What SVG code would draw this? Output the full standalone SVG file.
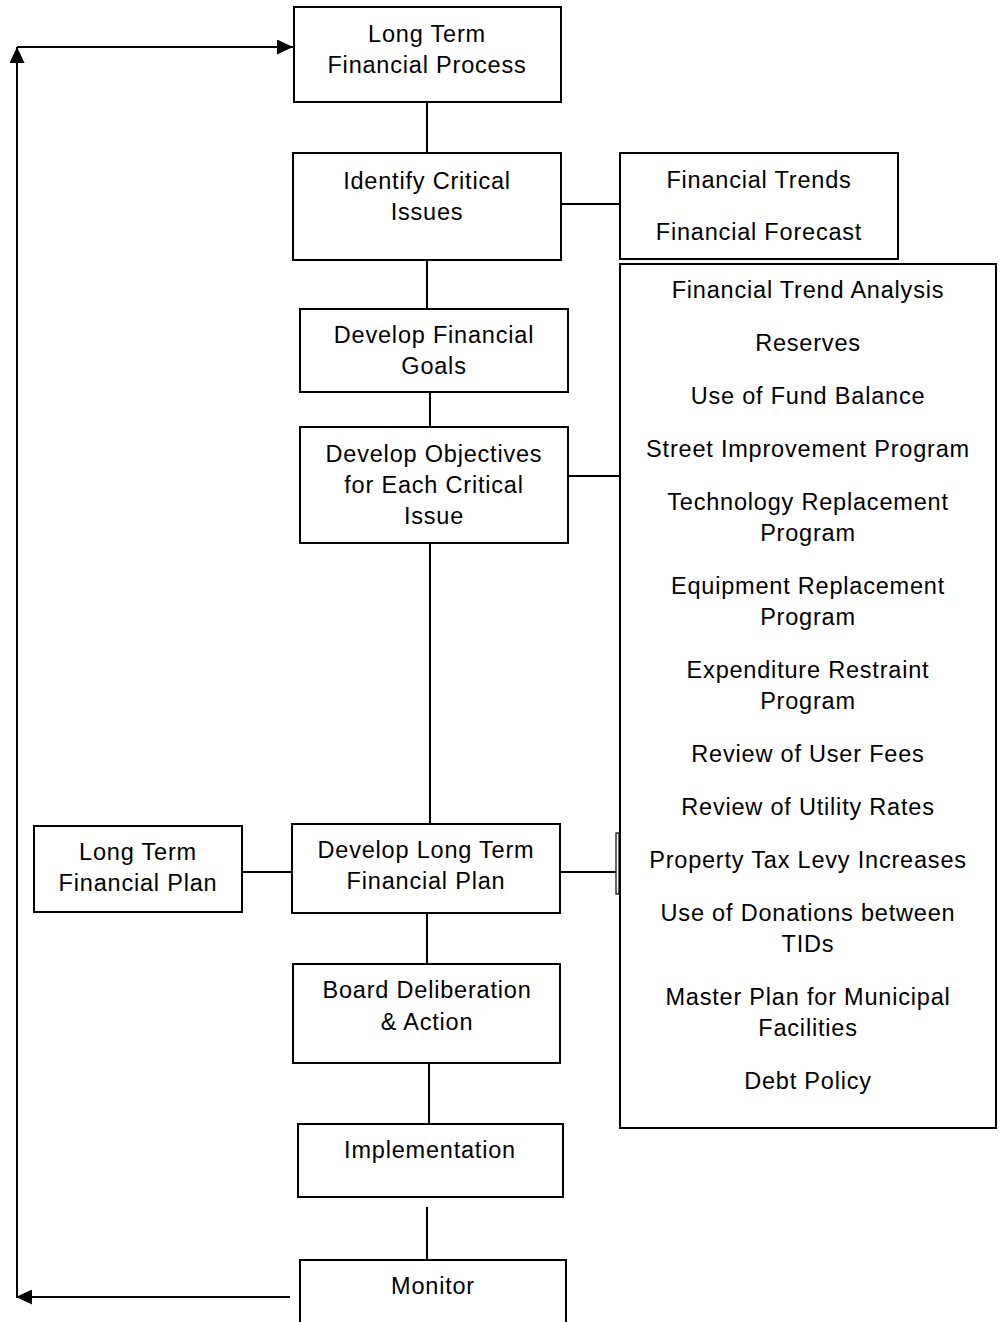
<svg xmlns="http://www.w3.org/2000/svg" width="1003" height="1322" viewBox="0 0 1003 1322">
<style>
.box{fill:#fff;stroke:#000;stroke-width:2}
.ln{stroke:#000;stroke-width:2;fill:none}
text{font-family:"Liberation Sans",Arial,sans-serif;font-size:23.5px;letter-spacing:0.8px;fill:#000;text-anchor:middle}
</style>
<defs>
<marker id="ah" viewBox="0 0 16 15" refX="16" refY="7.5" markerWidth="16" markerHeight="15" markerUnits="userSpaceOnUse" orient="auto">
<path d="M0,0 L16,7.5 L0,15 Z" fill="#000"/>
</marker>
</defs>
<rect width="1003" height="1322" fill="#fff"/>
<g id="connectors">
<line class="ln" x1="427" y1="102" x2="427" y2="153"/>
<line class="ln" x1="561" y1="204" x2="620" y2="204"/>
<line class="ln" x1="427" y1="260" x2="427" y2="309"/>
<line class="ln" x1="430" y1="392" x2="430" y2="427"/>
<line class="ln" x1="568" y1="476" x2="624" y2="476"/>
<line class="ln" x1="430" y1="543" x2="430" y2="824"/>
<line class="ln" x1="242" y1="872" x2="292" y2="872"/>
<line class="ln" x1="560" y1="872" x2="617" y2="872"/>
<rect x="616" y="833" width="3" height="61" fill="#fff" stroke="#000" stroke-width="1.2"/>
<line class="ln" x1="427" y1="913" x2="427" y2="964"/>
<line class="ln" x1="429" y1="1063" x2="429" y2="1124"/>
<line class="ln" x1="427" y1="1207" x2="427" y2="1260"/>
<line class="ln" x1="290" y1="1297" x2="16" y2="1297" marker-end="url(#ah)"/>
<line class="ln" x1="17" y1="1297" x2="17" y2="47" marker-end="url(#ah)"/>
<line class="ln" x1="17" y1="47" x2="293" y2="47" marker-end="url(#ah)"/>
</g>
<g id="n-ltfp">
<rect class="box" x="294" y="7" width="267" height="95"/>
<text x="427" y="42">Long Term</text>
<text x="427" y="73">Financial Process</text>
</g>
<g id="n-identify">
<rect class="box" x="293" y="153" width="268" height="107"/>
<text x="427" y="189">Identify Critical</text>
<text x="427" y="220">Issues</text>
</g>
<g id="n-trends">
<rect class="box" x="620" y="153" width="278" height="106"/>
<text x="759" y="188">Financial Trends</text>
<text x="759" y="240">Financial Forecast</text>
</g>
<g id="n-list">
<rect class="box" x="620" y="264" width="376" height="864"/>
<text x="808" y="298">Financial Trend Analysis</text>
<text x="808" y="351">Reserves</text>
<text x="808" y="404">Use of Fund Balance</text>
<text x="808" y="457">Street Improvement Program</text>
<text x="808" y="510">Technology Replacement</text>
<text x="808" y="541">Program</text>
<text x="808" y="594">Equipment Replacement</text>
<text x="808" y="625">Program</text>
<text x="808" y="678">Expenditure Restraint</text>
<text x="808" y="709">Program</text>
<text x="808" y="762">Review of User Fees</text>
<text x="808" y="815">Review of Utility Rates</text>
<text x="808" y="868">Property Tax Levy Increases</text>
<text x="808" y="921">Use of Donations between</text>
<text x="808" y="952">TIDs</text>
<text x="808" y="1005">Master Plan for Municipal</text>
<text x="808" y="1036">Facilities</text>
<text x="808" y="1089">Debt Policy</text>
</g>
<g id="n-goals">
<rect class="box" x="300" y="309" width="268" height="83"/>
<text x="434" y="343">Develop Financial</text>
<text x="434" y="374">Goals</text>
</g>
<g id="n-objectives">
<rect class="box" x="300" y="427" width="268" height="116"/>
<text x="434" y="462">Develop Objectives</text>
<text x="434" y="493">for Each Critical</text>
<text x="434" y="524">Issue</text>
</g>
<g id="n-ltplan">
<rect class="box" x="34" y="826" width="208" height="86"/>
<text x="138" y="860">Long Term</text>
<text x="138" y="891">Financial Plan</text>
</g>
<g id="n-develop-plan">
<rect class="box" x="292" y="824" width="268" height="89"/>
<text x="426" y="858">Develop Long Term</text>
<text x="426" y="889">Financial Plan</text>
</g>
<g id="n-board">
<rect class="box" x="293" y="964" width="267" height="99"/>
<text x="427" y="998">Board Deliberation</text>
<text x="427" y="1030">&amp; Action</text>
</g>
<g id="n-impl">
<rect class="box" x="298" y="1124" width="265" height="73"/>
<text x="430" y="1158">Implementation</text>
</g>
<g id="n-monitor">
<rect class="box" x="300" y="1260" width="266" height="80"/>
<text x="433" y="1294">Monitor</text>
</g>
</svg>
